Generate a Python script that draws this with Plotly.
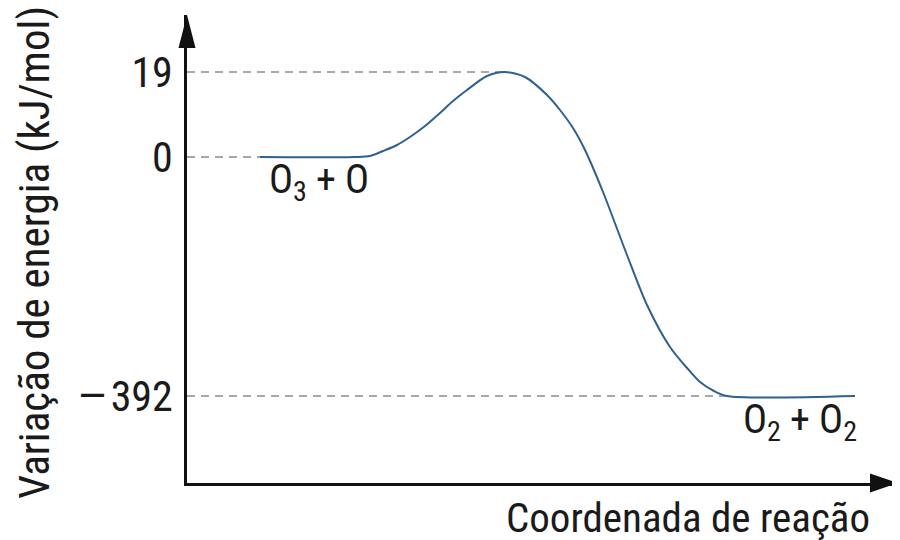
import plotly.graph_objects as go

# Schematic energy diagram: y is a schematic (not to scale) height for each energy level
level_labels = ["19", "0", "\u2014\u200a392"]
level_heights = [85, 0, -239]          # schematic heights of the three levels
level_dash_end = [318, 73, 540]        # reaction coordinate where each guide line meets the curve

# Reaction path (reaction coordinate, schematic height)
path_x = [73, 168, 183, 196, 210, 223, 238, 253, 266, 280, 300, 318, 338, 360, 373, 386,
          398, 416, 440, 460, 483, 500, 513, 527, 540, 668]
path_y = [0, 0, 1, 6, 12, 20, 31, 44, 56, 67, 81, 85, 80, 62, 47, 29,
          7, -35, -98, -148, -190, -211, -225, -234, -239, -239]

reactants = "O<sub>3</sub> + O"
products = "O<sub>2</sub> + O<sub>2</sub>"
x_title = "Coordenada de reação"
y_title = "Variação de energia (kJ/mol)"

FONT = "Roboto Condensed, Roboto, sans-serif"
TXT = "#1a1a1a"

fig = go.Figure()

for h, xe in zip(level_heights, level_dash_end):
    fig.add_trace(go.Scatter(x=[0, xe], y=[h, h], mode="lines",
                             line=dict(color="#a8a8a8", width=2, dash="8px,6px"),
                             hoverinfo="skip", showlegend=False))

fig.add_trace(go.Scatter(x=path_x, y=path_y, mode="lines",
                         line=dict(color="#2e6190", width=2, shape="spline", smoothing=0.8),
                         showlegend=False))

fig.update_layout(
    width=900, height=540,
    margin=dict(l=179, r=11, t=7, b=65),
    paper_bgcolor="white", plot_bgcolor="white",
    font=dict(family=FONT, color=TXT),
    xaxis=dict(range=[0, 710], showgrid=False, zeroline=False, showticklabels=False,
               showline=True, linecolor="#111", linewidth=2.5, ticks=""),
    yaxis=dict(range=[-326, 142], showgrid=False, zeroline=False,
               tickvals=level_heights, ticktext=level_labels,
               ticks="outside", ticklen=3, tickcolor="rgba(0,0,0,0)",
               tickfont=dict(size=42, family=FONT, color=TXT),
               showline=True, linecolor="#111", linewidth=2.5),
    shapes=[
        dict(type="path", xref="paper", yref="paper",
             path="M 0 1 L -0.0120 0.9295 L 0.0120 0.9295 Z",
             fillcolor="#111", line=dict(width=0)),
        dict(type="path", xref="paper", yref="paper",
             path="M 1.0014 0 L 0.962 0.0203 L 0.962 -0.0203 Z",
             fillcolor="#111", line=dict(width=0)),
    ],
    annotations=[
        dict(text=reactants, x=80, y=-25, xref="x", yref="y", xanchor="left", yanchor="middle",
             showarrow=False, font=dict(size=40, family=FONT, color=TXT)),
        dict(text=products, x=554, y=-265, xref="x", yref="y", xanchor="left", yanchor="middle",
             showarrow=False, font=dict(size=40, family=FONT, color=TXT)),
        dict(text=x_title, x=0.7056, y=-0.0748, xref="paper", yref="paper",
             xanchor="center", yanchor="middle", showarrow=False,
             font=dict(size=41, family=FONT, color=TXT)),
        dict(text=y_title, x=-0.2155, y=0.4936, xref="paper", yref="paper", textangle=-90,
             xanchor="center", yanchor="middle", showarrow=False,
             font=dict(size=43, family=FONT, color=TXT)),
    ],
)

fig.write_html("out.html")
